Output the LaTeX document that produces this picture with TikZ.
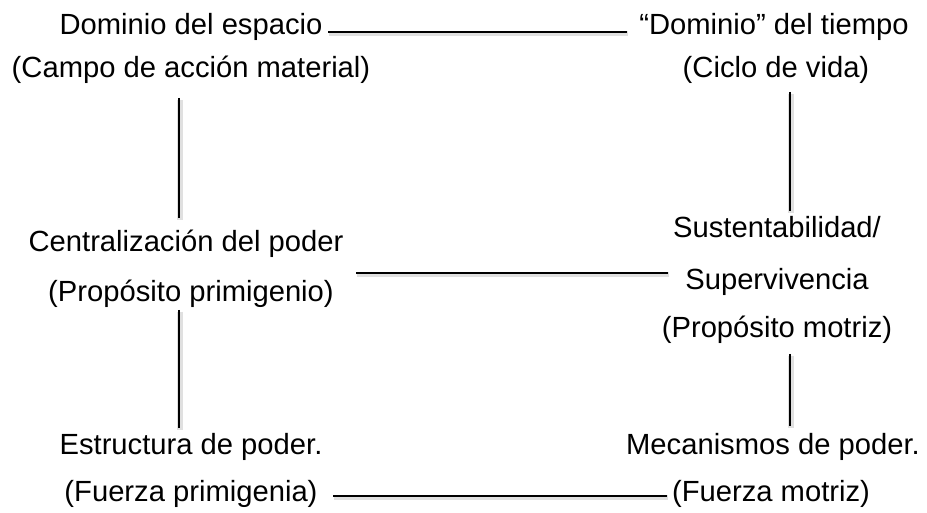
\documentclass[tikz,border=0pt]{standalone}
\usepackage{fontspec}
\setmainfont{Liberation Sans}
\usetikzlibrary{positioning}

\begin{document}
\begin{tikzpicture}[x=0.01cm,y=-0.01cm]
\tikzstyle{every node}+=[inner sep=0pt, anchor=base, font=\fontsize{8.3pt}{10pt}\selectfont]
\tikzstyle{conn}=[black, line width=0.8pt, line cap=butt,
  preaction={draw, black!12, line width=1.6pt, transform canvas={shift={(0.25pt,-0.45pt)}}}]
\useasboundingbox (0,0) rectangle (927,513);
% texts
\node (espacio) at (191,35) {Dominio del espacio};
\node (campo) at (191,78) {(Campo de acción material)};
\node (tiempo) at (774,35) {“Dominio” del tiempo};
\node (ciclo) at (776,78) {(Ciclo de vida)};
\node (central) at (186,252) {Centralización del poder};
\node (primig) at (191,302) {(Propósito primigenio)};
\node (sustent) at (777,238) {Sustentabilidad/};
\node (superv) at (777,290) {Supervivencia};
\node (motriz) at (777,338) {(Propósito motriz)};
\node (estruct) at (191,455) {Estructura de poder.};
\node (fprimig) at (191,502) {(Fuerza primigenia)};
\node (mecan) at (773,455) {Mecanismos de poder.};
\node (fmotriz) at (771,502) {(Fuerza motriz)};
% line ends
\coordinate (espR) at (328,32);
\coordinate (tiemL) at (627,32);
\coordinate (campoB) at (179,98);
\coordinate (centT) at (179,218);
\coordinate (primB) at (179,310);
\coordinate (estT) at (179,428);
\coordinate (cicloB) at (790,92);
\coordinate (sustT) at (790,211);
\coordinate (motB) at (790,354);
\coordinate (mecT) at (790,426);
\coordinate (centR) at (356,273);
\coordinate (supL) at (668,273);
\coordinate (fprR) at (333,496);
\coordinate (fmoL) at (667,496);
% connectors
\draw[conn] (espR) -- (tiemL);
\draw[conn] (centR) -- (supL);
\draw[conn] (fprR) -- (fmoL);
\draw[conn] (campoB) -- (centT);
\draw[conn] (primB) -- (estT);
\draw[conn] (cicloB) -- (sustT);
\draw[conn] (motB) -- (mecT);
\end{tikzpicture}
\end{document}
